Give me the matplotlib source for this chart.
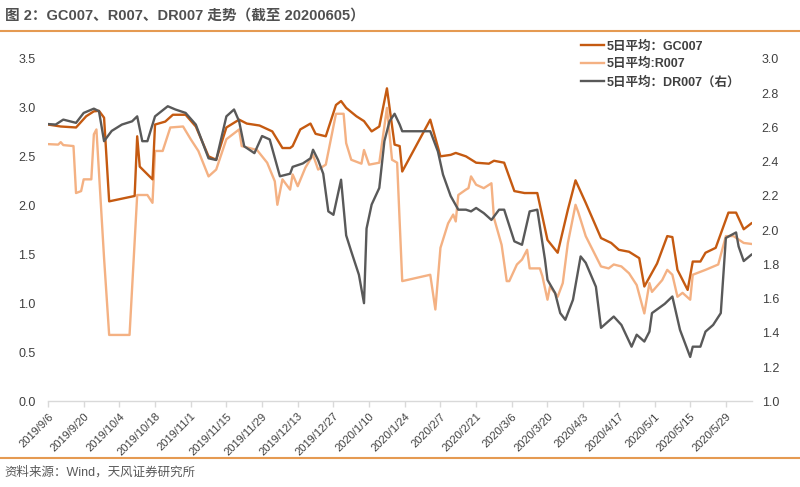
import matplotlib
matplotlib.use("Agg")
import matplotlib.pyplot as plt
import matplotlib.dates as mdates
import pandas as pd
from matplotlib.lines import Line2D

plt.rcParams['font.family'] = ['Liberation Sans', 'Noto Sans CJK SC', 'DejaVu Sans']

# ---------------- data ----------------
gc_dates = ["2019-09-06", "2019-09-11", "2019-09-17", "2019-09-21", "2019-09-24", "2019-09-26",
            "2019-09-28", "2019-09-30", "2019-10-10", "2019-10-11", "2019-10-12", "2019-10-17",
            "2019-10-18", "2019-10-22", "2019-10-25", "2019-10-30", "2019-11-03", "2019-11-08",
            "2019-11-11", "2019-11-15", "2019-11-20", "2019-11-23", "2019-11-28", "2019-12-03",
            "2019-12-07", "2019-12-10", "2019-12-11", "2019-12-14", "2019-12-18", "2019-12-20",
            "2019-12-24", "2019-12-28", "2019-12-30", "2020-01-01", "2020-01-05", "2020-01-08",
            "2020-01-11", "2020-01-14", "2020-01-17", "2020-01-20", "2020-01-22", "2020-01-23",
            "2020-02-03", "2020-02-07", "2020-02-11", "2020-02-13", "2020-02-17", "2020-02-21",
            "2020-02-26", "2020-02-28", "2020-03-03", "2020-03-07", "2020-03-11", "2020-03-16",
            "2020-03-20", "2020-03-24", "2020-03-28", "2020-03-31", "2020-04-04", "2020-04-10",
            "2020-04-14", "2020-04-17", "2020-04-21", "2020-04-25", "2020-04-27", "2020-05-02",
            "2020-05-06", "2020-05-08", "2020-05-10", "2020-05-14", "2020-05-16", "2020-05-19",
            "2020-05-21", "2020-05-25", "2020-05-30", "2020-06-02", "2020-06-05", "2020-06-08"]
gc007 = [2.83, 2.81, 2.80, 2.915, 2.965, 2.97,
         2.90, 2.045, 2.10, 2.71, 2.40, 2.27,
         2.83, 2.86, 2.93, 2.93, 2.81, 2.505,
         2.47, 2.80, 2.88, 2.84, 2.82, 2.76,
         2.59, 2.59, 2.61, 2.78, 2.84, 2.735,
         2.71, 3.03, 3.07, 3.00, 2.915, 2.865,
         2.76, 2.81, 3.20, 2.625, 2.61, 2.35,
         2.88, 2.505, 2.52, 2.54, 2.505, 2.44,
         2.43, 2.46, 2.44, 2.15, 2.13, 2.13,
         1.65, 1.52, 1.96, 2.26, 2.03, 1.67,
         1.62, 1.55, 1.53, 1.465, 1.175, 1.41,
         1.69, 1.68, 1.345, 1.14, 1.43, 1.43,
         1.52, 1.57, 1.93, 1.93, 1.76, 1.82]

r_dates = ["2019-09-06", "2019-09-10", "2019-09-11", "2019-09-12", "2019-09-16", "2019-09-17",
           "2019-09-19", "2019-09-20", "2019-09-23", "2019-09-24", "2019-09-25", "2019-09-28",
           "2019-09-30", "2019-10-08", "2019-10-11", "2019-10-15", "2019-10-17", "2019-10-18",
           "2019-10-21", "2019-10-24", "2019-10-29", "2019-11-01", "2019-11-04", "2019-11-08",
           "2019-11-11", "2019-11-15", "2019-11-20", "2019-11-21", "2019-11-27", "2019-12-01",
           "2019-12-04", "2019-12-05", "2019-12-07", "2019-12-10", "2019-12-11", "2019-12-13",
           "2019-12-16", "2019-12-19", "2019-12-21", "2019-12-24", "2019-12-28", "2019-12-31",
           "2020-01-01", "2020-01-03", "2020-01-07", "2020-01-08", "2020-01-10", "2020-01-14",
           "2020-01-17", "2020-01-19", "2020-01-21", "2020-01-23", "2020-02-03", "2020-02-05",
           "2020-02-07", "2020-02-10", "2020-02-12", "2020-02-13", "2020-02-14", "2020-02-17",
           "2020-02-18", "2020-02-19", "2020-02-21", "2020-02-24", "2020-02-27", "2020-02-28",
           "2020-03-02", "2020-03-04", "2020-03-05", "2020-03-08", "2020-03-10", "2020-03-12",
           "2020-03-13", "2020-03-17", "2020-03-18", "2020-03-20", "2020-03-21", "2020-03-24",
           "2020-03-26", "2020-03-28", "2020-03-31", "2020-04-01", "2020-04-04", "2020-04-10",
           "2020-04-13", "2020-04-15", "2020-04-18", "2020-04-21", "2020-04-24", "2020-04-27",
           "2020-04-29", "2020-04-30", "2020-05-04", "2020-05-06", "2020-05-08", "2020-05-10",
           "2020-05-12", "2020-05-15", "2020-05-16", "2020-05-21", "2020-05-26", "2020-05-29",
           "2020-06-01", "2020-06-05", "2020-06-08"]
r007 = [2.63, 2.625, 2.65, 2.62, 2.61, 2.13,
        2.15, 2.27, 2.27, 2.73, 2.78, 1.465,
        0.68, 0.68, 2.11, 2.11, 2.03, 2.56,
        2.56, 2.80, 2.81, 2.68, 2.56, 2.30,
        2.37, 2.68, 2.78, 2.61, 2.57, 2.44,
        2.25, 2.01, 2.27, 2.165, 2.32, 2.20,
        2.39, 2.52, 2.37, 2.42, 2.94, 2.94,
        2.64, 2.47, 2.43, 2.57, 2.42, 2.44,
        3.00, 2.47, 2.44, 1.23, 1.295, 0.94,
        1.57, 1.82, 1.91, 1.84, 2.11, 2.165,
        2.18, 2.30, 2.215, 2.18, 2.23, 1.875,
        1.60, 1.23, 1.23, 1.40, 1.45, 1.55,
        1.36, 1.36, 1.28, 1.04, 1.175, 1.07,
        1.21, 1.62, 2.01, 1.94, 1.69, 1.38,
        1.36, 1.40, 1.38, 1.31, 1.19, 0.90,
        1.21, 1.12, 1.24, 1.345, 1.295, 1.07,
        1.11, 1.04, 1.295, 1.345, 1.40, 1.69,
        1.69, 1.62, 1.61]

dr_dates = ["2019-09-06", "2019-09-09", "2019-09-12", "2019-09-17", "2019-09-20", "2019-09-24",
            "2019-09-26", "2019-09-28", "2019-10-01", "2019-10-05", "2019-10-09", "2019-10-11",
            "2019-10-13", "2019-10-15", "2019-10-18", "2019-10-23", "2019-10-26", "2019-10-30",
            "2019-11-03", "2019-11-08", "2019-11-11", "2019-11-15", "2019-11-18", "2019-11-20",
            "2019-11-22", "2019-11-26", "2019-11-29", "2019-12-02", "2019-12-06", "2019-12-10",
            "2019-12-11", "2019-12-15", "2019-12-18", "2019-12-19", "2019-12-21", "2019-12-23",
            "2019-12-25", "2019-12-27", "2019-12-30", "2020-01-01", "2020-01-03", "2020-01-06",
            "2020-01-08", "2020-01-09", "2020-01-11", "2020-01-14", "2020-01-16", "2020-01-18",
            "2020-01-20", "2020-01-22", "2020-01-23", "2020-02-03", "2020-02-06", "2020-02-08",
            "2020-02-11", "2020-02-14", "2020-02-17", "2020-02-19", "2020-02-21", "2020-02-24",
            "2020-02-27", "2020-03-01", "2020-03-03", "2020-03-07", "2020-03-10", "2020-03-13",
            "2020-03-16", "2020-03-19", "2020-03-20", "2020-03-23", "2020-03-25", "2020-03-27",
            "2020-03-30", "2020-04-02", "2020-04-04", "2020-04-08", "2020-04-10", "2020-04-15",
            "2020-04-18", "2020-04-22", "2020-04-24", "2020-04-27", "2020-04-29", "2020-04-30",
            "2020-05-05", "2020-05-08", "2020-05-11", "2020-05-15", "2020-05-16", "2020-05-19",
            "2020-05-21", "2020-05-24", "2020-05-27", "2020-05-29", "2020-06-02", "2020-06-03",
            "2020-06-05", "2020-06-08"]
dr007 = [2.62, 2.617, 2.646, 2.627, 2.685, 2.71,
         2.695, 2.52, 2.58, 2.617, 2.636, 2.665,
         2.52, 2.52, 2.665, 2.724, 2.705, 2.685,
         2.617, 2.42, 2.41, 2.665, 2.705, 2.636,
         2.49, 2.45, 2.55, 2.53, 2.315, 2.33,
         2.37, 2.39, 2.42, 2.47, 2.41, 2.33,
         2.11, 2.09, 2.295, 1.97, 1.876, 1.74,
         1.574, 2.01, 2.15, 2.247, 2.52, 2.636,
         2.68, 2.617, 2.578, 2.578, 2.46, 2.325,
         2.20, 2.12, 2.12, 2.11, 2.13, 2.10,
         2.06, 2.12, 2.12, 1.935, 1.915, 2.11,
         2.12, 1.83, 1.71, 1.633, 1.516, 1.477,
         1.594, 1.847, 1.81, 1.67, 1.43, 1.496,
         1.447, 1.32, 1.39, 1.35, 1.408, 1.516,
         1.57, 1.613, 1.418, 1.26, 1.32, 1.32,
         1.408, 1.447, 1.516, 1.955, 1.987, 1.905,
         1.82, 1.857]

labels = ["5日平均：GC007", "5日平均:R007", "5日平均：DR007（右）"]
tick_start = "2019-09-06"
tick_end = "2020-05-29"
tick_step_days = 14

# ---------------- style ----------------
c_gc = "#C55A11"
c_r = "#F4B183"
c_dr = "#595959"
c_txt = "#404040"
c_rule = "#E59A52"

fig = plt.figure(figsize=(8.0, 4.87), dpi=100)
ax = fig.add_axes([0.06, 0.1756, 0.88, 0.7033])
ax2 = ax.twinx()

lgc, = ax.plot(pd.to_datetime(gc_dates), gc007, color=c_gc, lw=1.7, zorder=3)
lr, = ax.plot(pd.to_datetime(r_dates), r007, color=c_r, lw=1.7, zorder=2)
ldr, = ax2.plot(pd.to_datetime(dr_dates), dr007, color=c_dr, lw=1.7)

ax.set_ylim(0, 3.5)
ax.set_yticks([0.0, 0.5, 1.0, 1.5, 2.0, 2.5, 3.0, 3.5])
ax.set_yticklabels([f"{v:.1f}" for v in ax.get_yticks()])
ax2.set_ylim(1.0, 3.0)
ax2.set_yticks([1.0, 1.2, 1.4, 1.6, 1.8, 2.0, 2.2, 2.4, 2.6, 2.8, 3.0])
ax2.set_yticklabels([f"{v:.1f}" for v in ax2.get_yticks()])

ax.set_xlim(pd.Timestamp("2019-09-06"), pd.Timestamp("2020-06-08 06:00"))
ticks = pd.date_range(tick_start, tick_end, freq=f"{tick_step_days}D")
ax.set_xticks(ticks)
ax.set_xticklabels([f"{t.year}/{t.month}/{t.day}" for t in ticks], rotation=45,
                   ha="right", va="top", rotation_mode="anchor", fontsize=8, color=c_txt)

for a in (ax, ax2):
    for s in ("top", "left", "right", "bottom"):
        a.spines[s].set_visible(False)
ax.spines["bottom"].set_visible(True)
ax.spines["bottom"].set_color("#D9D9D9")
ax.spines["bottom"].set_linewidth(1.0)

ax.tick_params(axis="x", length=4, width=1, color="#D9D9D9", pad=3)
ax.tick_params(axis="y", length=0, pad=9, labelsize=9, labelcolor=c_txt)
ax2.tick_params(axis="y", length=0, pad=7, labelsize=9, labelcolor=c_txt)

leg = fig.legend([lgc, lr, ldr], labels, loc="upper left",
                 bbox_to_anchor=(0.718, 0.93), frameon=False,
                 prop={"size": 9, "weight": "bold"}, handlelength=1.9,
                 handletextpad=0.2, labelspacing=0.45, borderpad=0)
for t in leg.get_texts():
    t.set_color(c_txt)

# title, rules, footer
fig.text(0.006, 0.968, "图 2：GC007、R007、DR007 走势（截至 20200605）", fontsize=10.5,
         color="#505050", ha="left", va="center", fontweight="bold")
fig.add_artist(Line2D([0, 1], [1 - 31 / 487, 1 - 31 / 487], transform=fig.transFigure,
                      color=c_rule, lw=1.5))
fig.add_artist(Line2D([0, 1], [1 - 457.5 / 487, 1 - 457.5 / 487], transform=fig.transFigure,
                      color=c_rule, lw=1.5))
fig.text(0.006, 1 - 472 / 487, "资料来源：Wind，天风证券研究所", fontsize=9,
         color="#595959", ha="left", va="center")

fig.savefig("out.png", dpi=100, facecolor="white")
